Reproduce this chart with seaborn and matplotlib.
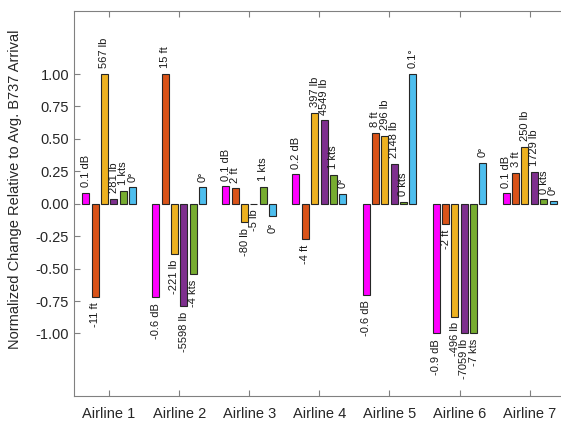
import matplotlib
matplotlib.use("Agg")
import matplotlib.pyplot as plt
import seaborn as sns
import pandas as pd
import numpy as np

airlines = ["Airline 1", "Airline 2", "Airline 3", "Airline 4", "Airline 5", "Airline 6", "Airline 7"]
metrics = ["Noise", "Altitude", "Fuel", "Weight", "Speed", "Angle"]

noise = [0.085, -0.72, 0.136, 0.226, -0.70, -1.0, 0.082]
altitude = [-0.72, 1.0, 0.118, -0.27, 0.546, -0.155, 0.237]
fuel = [1.0, -0.386, -0.142, 0.70, 0.525, -0.87, 0.44]
weight = [0.04, -0.79, -0.0007, 0.643, 0.309, -1.0, 0.245]
speed = [0.10, -0.54, 0.131, 0.224, 0.015, -1.0, 0.036]
angle = [0.126, 0.126, -0.098, 0.077, 1.0, 0.314, 0.023]

noise_lbl = ["0.1 dB", "-0.6 dB", "0.1 dB", "0.2 dB", "-0.6 dB", "-0.9 dB", "0.1 dB"]
altitude_lbl = ["-11 ft", "15 ft", "2 ft", "-4 ft", "8 ft", "-2 ft", "3 ft"]
fuel_lbl = ["567 lb", "-221 lb", "-80 lb", "397 lb", "296 lb", "-496 lb", "250 lb"]
weight_lbl = ["281 lb", "-5598 lb", "-5 lb", "4549 lb", "2148 lb", "-7059 lb", "1729 lb"]
speed_lbl = ["1 kts", "-4 kts", "1 kts", "1 kts", "0 kts", "-7 kts", "0 kts"]
angle_lbl = ["0°", "0°", "0°", "0°", "0.1°", "0°", "0°"]

yticks = [-1.0, -0.75, -0.5, -0.25, 0.0, 0.25, 0.5, 0.75, 1.0]
ytick_labels = ["-1.00", "-0.75", "-0.50", "-0.25", "0.00", "0.25", "0.50", "0.75", "1.00"]

series = [noise, altitude, fuel, weight, speed, angle]
labels = [noise_lbl, altitude_lbl, fuel_lbl, weight_lbl, speed_lbl, angle_lbl]
colors = ["#FF00FF", "#D95319", "#EDB120", "#7E2F8E", "#77AC30", "#4DBEEE"]

rows = []
for m, vals in zip(metrics, series):
    for a, v in zip(airlines, vals):
        rows.append({"Airline": a, "Metric": m, "Value": v})
df = pd.DataFrame(rows)

sns.set_theme(style="white")
plt.rcParams["font.family"] = ["Liberation Sans", "DejaVu Sans"]
plt.rcParams["axes.unicode_minus"] = False

fig = plt.figure(figsize=(5.61, 4.25), dpi=100)
ax = fig.add_axes([74 / 561, 1 - 395.7 / 425, 490.7 / 561, (395.7 - 10.5) / 425])

sns.barplot(data=df, x="Airline", y="Value", hue="Metric", hue_order=metrics,
            order=airlines, palette=colors, width=0.8, gap=0.25,
            edgecolor="#262626", linewidth=0.8, saturation=1, legend=False,
            errorbar=None, ax=ax)

for cont, lbls in zip(ax.containers, labels):
    ax.bar_label(cont, labels=lbls, rotation=90, padding=4, fontsize=8,
                 color="#1a1a1a")

ax.set_xlim(-0.5, 6.5)
ax.set_ylim(-1.48, 1.49)
ax.set_yticks(yticks)
ax.set_yticklabels(ytick_labels)
ax.set_xlabel("")
ax.set_ylabel("Normalized Change Relative to Avg. B737 Arrival", fontsize=10.5,
              color="#262626")
ax.yaxis.set_label_coords(-0.105, 0.537)

for s in ax.spines.values():
    s.set_color("#808080")
    s.set_linewidth(0.8)
    s.set_visible(True)
ax.spines["right"].set_visible(False)
ax.tick_params(axis="both", direction="in", length=4, width=0.8, color="#808080",
               labelsize=10.5, labelcolor="#262626", top=True, right=False,
               bottom=True, left=True)
ax.tick_params(axis="x", pad=8)

fig.savefig("out.png", dpi=100)
